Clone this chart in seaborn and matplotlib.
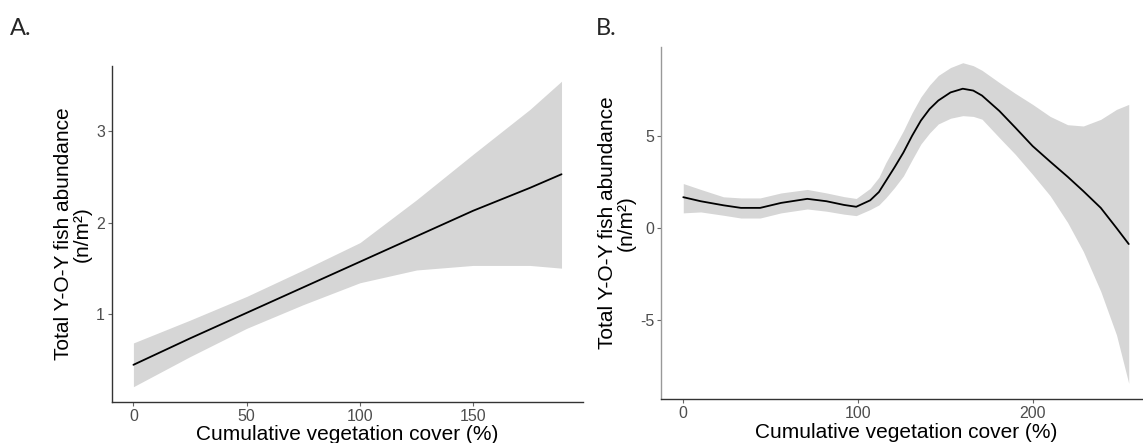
import matplotlib
matplotlib.use('Agg')
import matplotlib.pyplot as plt
import seaborn as sns
import pandas as pd

sns.set_style("white")
plt.rcParams['font.family'] = ['Liberation Sans', 'DejaVu Sans']
plt.rcParams['axes.unicode_minus'] = False

# Panel A: fitted abundance vs vegetation cover
veg_a = [0, 25, 50, 75, 100, 125, 150, 175, 189]
fit_a = [0.44, 0.73, 1.01, 1.29, 1.57, 1.85, 2.13, 2.38, 2.53]
upr_a = [0.68, 0.93, 1.19, 1.48, 1.78, 2.25, 2.75, 3.24, 3.55]
lwr_a = [0.20, 0.53, 0.84, 1.10, 1.34, 1.48, 1.53, 1.53, 1.50]

# Panel B: GAM smooth
veg_b = [0, 10, 23, 33, 44, 56, 71, 82, 92, 99, 107, 112, 116, 121, 126, 131,
         136, 141, 146, 153, 160, 166, 171, 181, 190, 200, 210, 220, 229,
         239, 248, 255]
fit_b = [1.67, 1.45, 1.23, 1.09, 1.09, 1.36, 1.58, 1.45, 1.25, 1.15, 1.50,
         1.95, 2.55, 3.30, 4.09, 5.00, 5.82, 6.45, 6.91, 7.35, 7.55, 7.45,
         7.18, 6.34, 5.45, 4.44, 3.60, 2.78, 2.00, 1.09, 0.00, -0.87]
upr_b = [2.41, 2.09, 1.69, 1.63, 1.63, 1.90, 2.09, 1.90, 1.70, 1.60, 2.15,
         2.75, 3.55, 4.40, 5.27, 6.25, 7.10, 7.75, 8.27, 8.70, 8.96, 8.80,
         8.55, 7.88, 7.30, 6.70, 6.05, 5.60, 5.53, 5.89, 6.43, 6.70]
lwr_b = [0.82, 0.87, 0.69, 0.54, 0.54, 0.82, 1.03, 0.91, 0.75, 0.67, 1.00,
         1.25, 1.64, 2.20, 2.82, 3.70, 4.55, 5.15, 5.64, 5.95, 6.09, 6.05,
         5.90, 4.89, 4.00, 2.90, 1.75, 0.30, -1.27, -3.44, -5.80, -8.42]

ticks_a = [0, 50, 100, 150]
yticks_a = [1, 2, 3]
ticks_b = [0, 100, 200]
yticks_b = [-5, 0, 5]

xlab = 'Cumulative vegetation cover (%)'
ylab = 'Total Y-O-Y fish abundance\n(n/m\u00b2)'


def expand(lo, hi, f=0.05):
    d = (hi - lo) * f
    return lo - d, hi + d


def smooth_panel(ax, x, fit, lo, hi, xt, yt, xaxis_col, yaxis_col):
    df = pd.DataFrame({'x': x, 'fit': fit, 'lo': lo, 'hi': hi})
    ax.fill_between(df['x'], df['lo'], df['hi'], color='#d6d6d6', lw=0)
    sns.lineplot(data=df, x='x', y='fit', ax=ax, color='black', lw=1.3)
    ax.set_xlim(*expand(min(x), max(x)))
    ax.set_ylim(*expand(min(lo), max(hi)))
    ax.set_xticks(xt)
    ax.set_yticks(yt)
    ax.set_xlabel(xlab, fontsize=15, color='black', labelpad=1)
    ax.set_ylabel(ylab, fontsize=15, color='black', labelpad=3, linespacing=1.0)
    ax.tick_params(axis='both', length=3, width=0.8, color='#666666',
                   labelsize=11.5, labelcolor='#4d4d4d', pad=2,
                   bottom=True, left=True)
    for s in ['top', 'right']:
        ax.spines[s].set_visible(False)
    ax.spines['bottom'].set_color(xaxis_col)
    ax.spines['left'].set_color(yaxis_col)
    ax.spines['bottom'].set_linewidth(1.0)
    ax.spines['left'].set_linewidth(1.0)


fig = plt.figure(figsize=(11.43, 4.43), dpi=100)
ax_a = fig.add_axes([0.098, 0.0926, 0.412, 0.7585])
ax_b = fig.add_axes([0.5783, 0.0986, 0.4287, 0.796])

smooth_panel(ax_a, veg_a, fit_a, lwr_a, upr_a, ticks_a, yticks_a, '#333333', '#333333')
smooth_panel(ax_b, veg_b, fit_b, lwr_b, upr_b, ticks_b, yticks_b, '#333333', '#999999')

fig.text(10 / 1143, 1 - 35 / 443, 'A.', fontsize=17, family=['Lato', 'DejaVu Sans'])
fig.text(596 / 1143, 1 - 35 / 443, 'B.', fontsize=17, family=['Lato', 'DejaVu Sans'])

fig.savefig('out.png', dpi=100)
